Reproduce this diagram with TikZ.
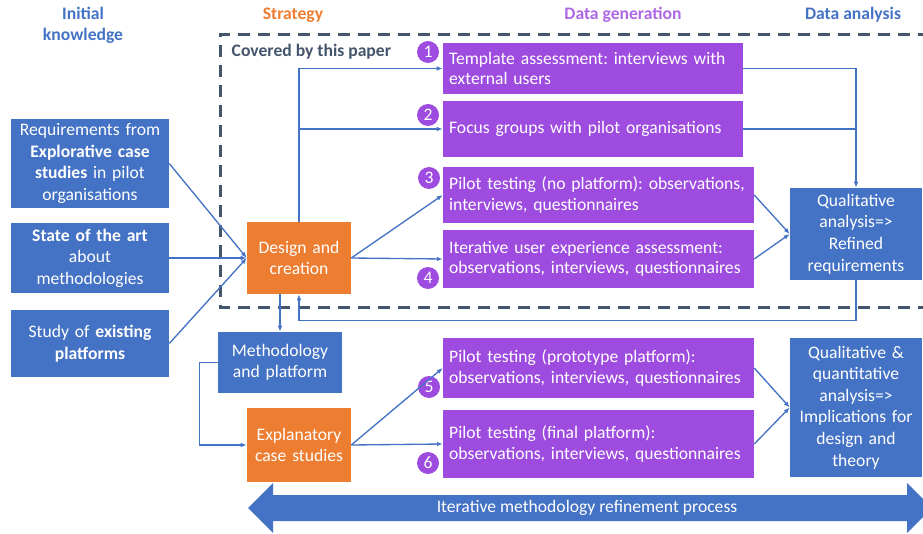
\documentclass[tikz,border=0pt]{standalone}
\usepackage{fontspec}
\setmainfont{Carlito}
\frenchspacing
\usetikzlibrary{arrows.meta}
\usetikzlibrary{positioning}
\definecolor{kblue}{RGB}{68,114,196}
\definecolor{sorange}{RGB}{237,125,49}
\definecolor{gpurple}{RGB}{158,76,224}
\definecolor{slate}{RGB}{68,84,106}
\tikzset{
    base/.style={text=white,inner sep=0pt,font=\fontsize{13.2}{15.2}\selectfont},
    kbox/.style={base,fill=kblue,align=center,font=\fontsize{13.2}{16.2}\selectfont},
    sbox/.style={base,fill=sorange,align=center},
    gbox/.style={base,fill=gpurple,align=left,inner xsep=4.6pt},
    num/.style={circle,fill=gpurple,text=white,inner sep=0pt,minimum size=16.5pt,font=\fontsize{13.2}{14}\selectfont},
    head/.style={font=\bfseries\fontsize{13.2}{15.5}\selectfont,align=center},
    link/.style={kblue,line width=1pt,-{Latex[length=4.5pt,width=3.5pt]}},
}

\begin{document}
\begin{tikzpicture}[x=0.75pt,y=-0.75pt]
    \useasboundingbox (0,0) rectangle (923,534);

    % covered by this paper
    \draw[slate,line width=2.25pt,dash pattern=on 9pt off 6pt] (930,35) -- (220,35) -- (220,307) -- (930,307);
    \node[head,text=slate,anchor=west] (C) at (227,52) {Covered by this paper};

    \node[head,text=kblue] (H1) at (83,25) {Initial\\knowledge};
    \node[head,text=sorange] (H2) at (293,15) {Strategy};
    \node[head,text=gpurple!85!white] (H3) at (623,15) {Data generation};
    \node[head,text=kblue] (H4) at (853,15) {Data analysis};

    \node[kbox,text width=118.5pt,minimum height=66.75pt] (K1) at (90,163.5)
        {Requirements from\\\textbf{Explorative case}\\\textbf{studies} in pilot\\organisations};
    \node[kbox,text width=118.5pt,minimum height=52.5pt] (K2) at (90,258)
        {\textbf{State of the art}\\about\\methodologies};
    \node[kbox,text width=118.5pt,minimum height=50.25pt] (K3) at (90,343.5)
        {Study of \textbf{existing}\\\textbf{platforms}};

    \node[sbox,text width=78pt,minimum height=54pt] (D) at (299,258) {Design and\\creation};
    \node[kbox,text width=93pt,minimum height=45.75pt] (M) at (280,362.5) {Methodology\\and platform};
    \node[sbox,text width=78pt,minimum height=55.5pt] (E) at (299,445) {Explanatory\\case studies};

    \node[gbox,text width=215.8pt,minimum height=38.25pt] (G1) at (593,68.5)
        {Template assessment: interviews with\\external users};
    \node[gbox,text width=215.8pt,minimum height=42pt] (G2) at (593,129)
        {Focus groups with pilot organisations};
    \node[gbox,text width=224pt,minimum height=42pt] (G3) at (598.5,195)
        {Pilot testing (no platform): observations,\\interviews, questionnaires};
    \node[gbox,text width=224pt,minimum height=43.5pt] (G4) at (598.5,259)
        {Iterative user experience assessment:\\observations, interviews, questionnaires};
    \node[gbox,text width=224pt,minimum height=45pt] (G5) at (598.5,368)
        {Pilot testing (prototype platform):\\observations, interviews, questionnaires};
    \node[gbox,text width=224pt,minimum height=51pt] (G6) at (598.5,444)
        {Pilot testing (final platform):\\observations, interviews, questionnaires};

    \node[kbox,text width=99pt,minimum height=69pt] (A1) at (856,234)
        {Qualitative\\analysis=>\\Refined\\requirements};
    \node[kbox,text width=99pt,minimum height=104.25pt] (A2) at (856,407.5)
        {Qualitative \&\\quantitative\\analysis=>\\Implications for\\design and\\theory};

    \foreach \n/\x/\y in {1/428/52,2/428/115,3/429/178,4/428/278,5/429/387,6/428/463}{%
        \node[num] (N\n) at (\x,\y) {\n};
    }

    \draw[link] (K1.east) -- (D.west);
    \draw[link] (K2.east) -- (D.west);
    \draw[link] (K3.east) -- (D.west);
    \draw[link] (D.north) |- (G1.west);
    \draw[link] (D.north |- G2.west) -- (G2.west);
    \draw[link] (D.east) -- (G3.west);
    \draw[link] (D.east) -- (G4.west);
    \draw[link] (G1.east) -| (A1.north);
    \draw[kblue,line width=1pt] (G2.east) -- (G2.east -| A1.north);
    \draw[link] (G3.east) -- (A1.west);
    \draw[link] (G4.east) -- (A1.west);
    \draw[link] (A1.south) -- ++(0,40) -| (D.south);
    \draw[link] (D.south -| M.north) -- (M.north);
    \draw[link] (M.west) -- ++(-18,0) |- (E.west);
    \draw[link] (E.east) -- (G5.west);
    \draw[link] (E.east) -- (G6.west);
    \draw[link] (G5.east) -- (A2.west);
    \draw[link] (G6.east) -- (A2.west);

    % iterative process arrow
    \fill[kblue] (248,508) -- (273,483) -- (273,495) -- (907,495) -- (907,483) -- (932,508)
        -- (907,533) -- (907,521) -- (273,521) -- (273,533) -- cycle;
    \node[base] (P) at (587,508) {Iterative methodology refinement process};
\end{tikzpicture}
\end{document}
